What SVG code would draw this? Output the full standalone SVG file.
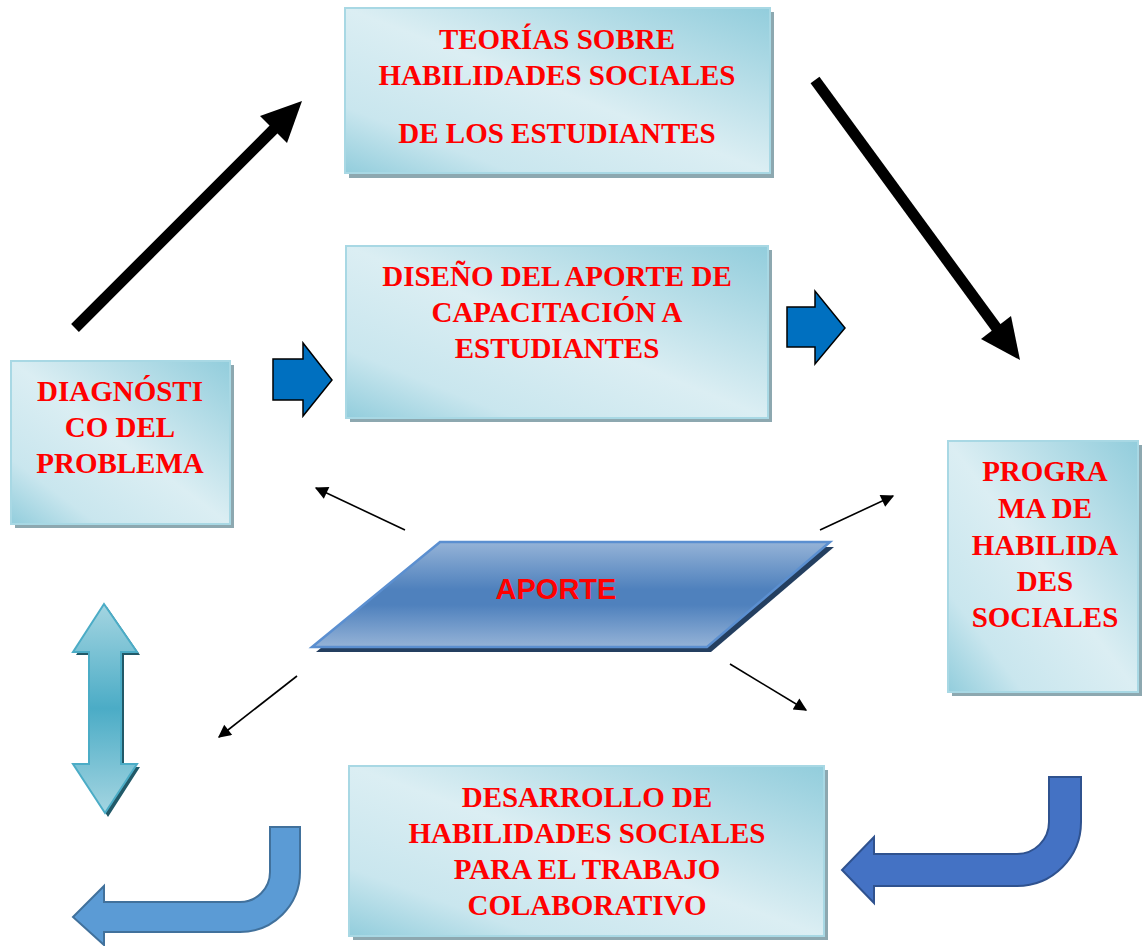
<svg xmlns="http://www.w3.org/2000/svg" width="1142" height="946" viewBox="0 0 1142 946">
<defs>
<linearGradient id="boxg" x1="1" y1="0" x2="0" y2="1">
<stop offset="0" stop-color="#92cddc"/>
<stop offset="0.5" stop-color="#dbeef3"/>
<stop offset="0.8" stop-color="#c9e6ee"/>
<stop offset="1" stop-color="#92cddc"/>
</linearGradient>
<linearGradient id="parag" x1="0" y1="0" x2="0" y2="1">
<stop offset="0" stop-color="#95b3d7"/>
<stop offset="0.45" stop-color="#4f81bd"/>
<stop offset="0.6" stop-color="#4f81bd"/>
<stop offset="1" stop-color="#95b3d7"/>
</linearGradient>
<linearGradient id="dblg" x1="0" y1="0" x2="0" y2="1">
<stop offset="0" stop-color="#a4d5e1"/>
<stop offset="0.5" stop-color="#4bacc6"/>
<stop offset="1" stop-color="#a4d5e1"/>
</linearGradient>
<marker id="ah" viewBox="0 0 10 10" refX="9" refY="5" markerWidth="15" markerHeight="13" markerUnits="userSpaceOnUse" orient="auto">
<path d="M0,0 L10,5 L0,10 z" fill="#000"/>
</marker>
<style>
.box{fill:url(#boxg);stroke:#a8d8e4;stroke-width:2}
.shadow{fill:#8da8b0}
.t{font-family:"Liberation Serif","Times New Roman",serif;font-weight:bold;font-size:29px;fill:#ff0000;text-anchor:middle}
.thin{stroke:#000;stroke-width:1.6;fill:none;marker-end:url(#ah)}
.thick{stroke:#000;stroke-width:11;fill:none}
.blk{fill:#000}
.blue{fill:#0070c0;stroke:#000;stroke-width:1.5}
</style>
</defs>

<g id="teorias">
<rect class="shadow" x="349" y="12" width="425" height="166"/>
<rect class="box" x="345" y="8" width="425" height="165"/>
<text class="t" x="557" y="49">TEORÍAS SOBRE</text>
<text class="t" x="557" y="85">HABILIDADES SOCIALES</text>
<text class="t" x="557" y="143">DE LOS ESTUDIANTES</text>
</g>

<g id="diseno">
<rect class="shadow" x="350" y="250" width="422" height="172"/>
<rect class="box" x="346" y="246" width="422" height="172"/>
<text class="t" x="557" y="286">DISEÑO DEL APORTE DE</text>
<text class="t" x="557" y="322">CAPACITACIÓN A</text>
<text class="t" x="557" y="358">ESTUDIANTES</text>
</g>

<g id="diagnostico">
<rect class="shadow" x="15" y="365" width="219" height="163"/>
<rect class="box" x="11" y="361" width="219" height="163"/>
<text class="t" x="120" y="401">DIAGNÓSTI</text>
<text class="t" x="120" y="437">CO DEL</text>
<text class="t" x="120" y="473">PROBLEMA</text>
</g>

<g id="programa">
<rect class="shadow" x="952" y="445" width="190" height="251"/>
<rect class="box" x="948" y="441" width="190" height="251"/>
<text class="t" x="1045" y="481">PROGRA</text>
<text class="t" x="1045" y="518">MA DE</text>
<text class="t" x="1045" y="555">HABILIDA</text>
<text class="t" x="1045" y="591">DES</text>
<text class="t" x="1045" y="627">SOCIALES</text>
</g>

<g id="desarrollo">
<rect class="shadow" x="353" y="770" width="475" height="170"/>
<rect class="box" x="349" y="766" width="475" height="170"/>
<text class="t" x="587" y="807">DESARROLLO DE</text>
<text class="t" x="587" y="843">HABILIDADES SOCIALES</text>
<text class="t" x="587" y="879">PARA EL TRABAJO</text>
<text class="t" x="587" y="915">COLABORATIVO</text>
</g>

<g id="aporte">
<polygon points="444,547 834,547 711,652 316,652" fill="#243f60"/>
<polygon points="440,542 830,542 707,647 312,647" fill="url(#parag)" stroke="#5b8fd0" stroke-width="2.5"/>
<text x="556" y="599" font-family="'Liberation Sans',Arial,sans-serif" font-weight="bold" font-size="29" fill="#ff0000" text-anchor="middle">APORTE</text>
</g>

<g id="connectors">
<line class="thick" x1="75" y1="328" x2="277" y2="126"/>
<polygon class="blk" points="302,101 287,143 260,116"/>
<line class="thick" x1="815" y1="80" x2="998" y2="330"/>
<polygon class="blk" points="1020,360 1011,316 981,339"/>

<path class="blue" d="M273,359 H303 V343 L332,380 L303,416 V400 H273 Z"/>
<path class="blue" d="M787,307 H815 V291 L845,328 L815,364 V347 H787 Z"/>

<line class="thin" x1="405" y1="530" x2="316" y2="488"/>
<line class="thin" x1="820" y1="530" x2="893" y2="496"/>
<line class="thin" x1="297" y1="676" x2="219" y2="737"/>
<line class="thin" x1="730" y1="664" x2="806" y2="710"/>

<path d="M107,607 L140,655 H124 V767 H140 L108,817 L76,767 H92 V655 H76 Z" fill="#215968"/>
<path d="M104,604 L137,652 H121 V764 H137 L105,813 L73,764 H89 V652 H73 Z" fill="url(#dblg)" stroke="#4bacc6" stroke-width="2"/>

<path d="M270,827 H300 V872 A60,60 0 0 1 240,932 H104 V945 L73,917 L104,886 V902 H240 A30,30 0 0 0 270,872 Z" fill="#5b9bd5" stroke="#41719c" stroke-width="2"/>
<path d="M1049,777 H1081 V822 A64,64 0 0 1 1017,886 H874 V903 L842,870 L874,837 V854 H1017 A32,32 0 0 0 1049,822 Z" fill="#4472c4" stroke="#2f528f" stroke-width="2"/>
</g>
</svg>
